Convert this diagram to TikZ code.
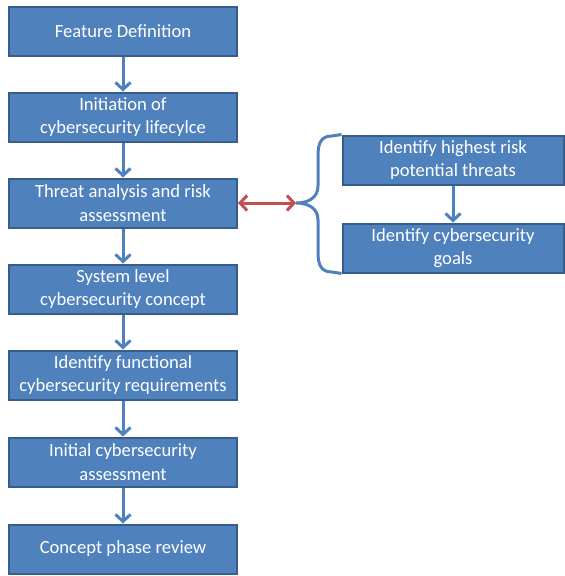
\documentclass[tikz,border=0pt]{standalone}
\usepackage{fontspec}
\setmainfont{Carlito}
\usepackage{xcolor}
\usetikzlibrary{arrows.meta}

\definecolor{boxfill}{HTML}{4F81BD}
\definecolor{boxline}{HTML}{385D8A}
\definecolor{linkred}{HTML}{C0504D}

\tikzset{
  phase/.style={draw=boxline,line width=2pt,fill=boxfill,text=white,
    minimum width=228pt,minimum height=49pt,inner sep=2pt,align=center,
    font=\fontsize{18.6}{23.5}\selectfont},
  flow/.style={-{Straight Barb[length=7pt,width=15pt]},draw=boxfill,line width=3pt},
  brace/.style={draw=boxfill,line width=3pt}
}

\begin{document}
\begin{tikzpicture}[x=1pt,y=-1pt]
        \useasboundingbox (0,0) rectangle (565,576);

        % main column of phases
        \node[phase] (feat) at (123,31) {Feature Definition};
        \node[phase] (init) at (123,117) {Initiation of\\cybersecurity lifecylce};
        \node[phase] (tara) at (123,203) {Threat analysis and risk\\assessment};
        \node[phase] (syst) at (123,289) {System level\\cybersecurity concept};
        \node[phase] (freq) at (123,375) {Identify functional\\cybersecurity requirements};
        \node[phase] (asmt) at (123,462) {Initial cybersecurity\\assessment};
        \node[phase] (revw) at (123,549) {Concept phase review};

        \foreach \a/\b in {feat/init,init/tara,tara/syst,syst/freq,freq/asmt,asmt/revw}
            \draw[flow] (\a) -- (\b);

        % sub steps of the threat analysis
        \node[phase,minimum width=221pt] (risk) at (453,160) {Identify highest risk\\potential threats};
        \node[phase,minimum width=221pt] (goal) at (453,248) {Identify cybersecurity\\goals};
        \draw[flow] (risk) -- (goal);

        \coordinate (tip) at (296,203);
        \draw[brace] (risk.north west) -- (332,136) .. controls (321,136) and (318,143) .. (318,156)
            -- (318,186) .. controls (318,198) and (308,203) .. (tip)
            .. controls (308,203) and (318,208) .. (318,220)
            -- (318,252) .. controls (318,265) and (321,272) .. (332,272) -- (goal.south west);

        \draw[flow,draw=linkred,{Straight Barb[length=7pt,width=15pt]}-{Straight Barb[length=7pt,width=15pt]}] (tara.east) -- (tip);
    \end{tikzpicture}
\end{document}
